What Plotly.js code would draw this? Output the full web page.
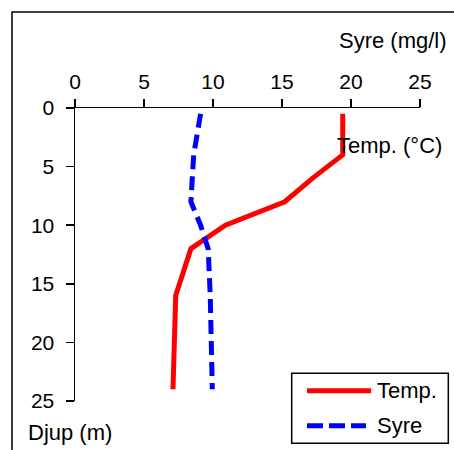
<!DOCTYPE html>
<html>
<head>
<meta charset="utf-8">
<script src="https://cdn.plot.ly/plotly-3.0.1.min.js"></script>
<style>html,body{margin:0;padding:0;background:#fff;}#chart{width:454px;height:450px;}</style>
</head>
<body>
<div id="chart"></div>
<script>
// Data
var tempDepth = [0.5, 4, 6, 8, 10, 12, 16, 24];
var tempValues = [19.4, 19.4, 17.2, 15.2, 10.9, 8.4, 7.3, 7.1];
var syreDepth = [0.5, 4, 8, 10, 12, 16, 24];
var syreValues = [9.1, 8.6, 8.4, 9.1, 9.65, 9.8, 9.95];
var tickValues = [0, 5, 10, 15, 20, 25];
var tickLabels = ['0', '5', '10', '15', '20', '25'];
var seriesNames = ['Temp.', 'Syre'];
var xTitle = 'Syre (mg/l)';
var tempTitle = 'Temp. (°C)';
var yTitle = 'Djup (m)';

// pixel -> paper helpers (plot area: x 75..420, y 108..401)
var L = 75, R = 420, T = 108, B = 401;
function px(x) { return (x - L) / (R - L); }
function py(y) { return (B - y) / (B - T); }

var font = {family: 'Liberation Sans, Arial, sans-serif', size: 22, color: '#000'};
var tfont = {family: 'Liberation Sans, Arial, sans-serif', size: 21, color: '#000'};

var traces = [
  {x: tempValues, y: tempDepth, name: seriesNames[0], mode: 'lines', type: 'scatter',
   line: {color: '#ff0000', width: 5}, showlegend: false},
  {x: syreValues, y: syreDepth, name: seriesNames[1], mode: 'lines', type: 'scatter',
   line: {color: '#0000ff', width: 5, dash: '14px,7px'}, showlegend: false}
];

var layout = {
  width: 454, height: 450,
  margin: {l: L, r: 454 - R, t: T, b: 450 - B, pad: 0},
  paper_bgcolor: '#fff', plot_bgcolor: '#fff',
  font: font,
  showlegend: false,
  xaxis: {side: 'top', range: [0, 25], tickvals: tickValues, ticktext: tickLabels,
    ticks: 'outside', ticklen: 8, tickwidth: 1.5, tickcolor: '#000',
    showline: true, linecolor: '#000', linewidth: 1.5, showgrid: false, zeroline: false,
    tickfont: tfont, ticklabelstandoff: 1, fixedrange: true},
  yaxis: {range: [25, 0], tickvals: tickValues, ticktext: tickLabels,
    ticks: 'outside', ticklen: 8, tickwidth: 1.5, tickcolor: '#000',
    showline: true, linecolor: '#000', linewidth: 1.5, showgrid: false, zeroline: false,
    tickfont: tfont, ticklabelstandoff: 7, fixedrange: true},
  shapes: [
    {type: 'rect', xref: 'paper', yref: 'paper', x0: px(12), x1: px(470), y0: py(12), y1: py(470),
     line: {color: '#000', width: 1.5}},
    {type: 'rect', xref: 'paper', yref: 'paper', x0: px(291.7), x1: px(448.3), y0: py(373.3), y1: py(443.3),
     line: {color: '#000', width: 1.5}, fillcolor: '#fff'},
    {type: 'line', xref: 'paper', yref: 'paper', x0: px(307), x1: px(371), y0: py(390.7), y1: py(390.7),
     line: {color: '#ff0000', width: 5}},
    {type: 'line', xref: 'paper', yref: 'paper', x0: px(307), x1: px(366), y0: py(425.7), y1: py(425.7),
     line: {color: '#0000ff', width: 5, dash: '16px,6px'}}
  ],
  annotations: [
    {text: xTitle, xref: 'paper', yref: 'paper', x: px(449), y: py(41), xanchor: 'right', yanchor: 'middle', showarrow: false, font: font},
    {text: tempTitle, xref: 'paper', yref: 'paper', x: px(335), y: py(145), xanchor: 'left', yanchor: 'middle', showarrow: false, font: font},
    {text: yTitle, xref: 'paper', yref: 'paper', x: px(26), y: py(432), xanchor: 'left', yanchor: 'middle', showarrow: false, font: font},
    {text: seriesNames[0], xref: 'paper', yref: 'paper', x: px(375), y: py(390.7), xanchor: 'left', yanchor: 'middle', showarrow: false, font: font},
    {text: seriesNames[1], xref: 'paper', yref: 'paper', x: px(375), y: py(425.7), xanchor: 'left', yanchor: 'middle', showarrow: false, font: font}
  ]
};

Plotly.newPlot('chart', traces, layout, {displayModeBar: false, staticPlot: true});
</script>
</body>
</html>
